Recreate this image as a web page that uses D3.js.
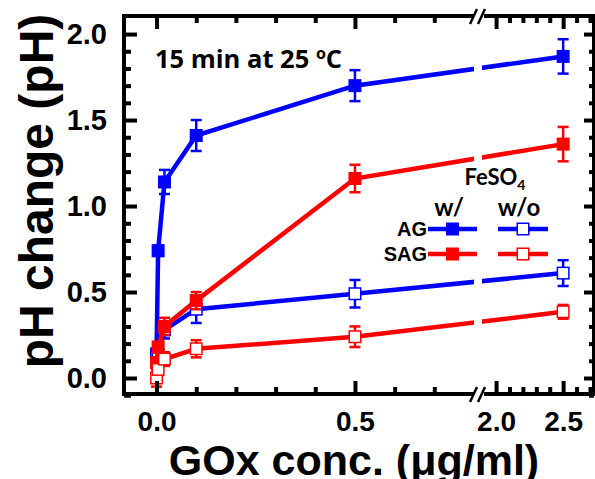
<!DOCTYPE html>
<html><head><meta charset="utf-8">
<script src="https://cdn.jsdelivr.net/npm/d3@7"></script>
<style>body{margin:0;background:#fff}svg{display:block}</style>
</head><body>
<svg id="c" width="595" height="479"></svg>
<script>
// ---- data ----
const concentrations = [0, 0.004, 0.02, 0.1, 0.5, 2.5];
const agWith      = [0.14, 0.74, 1.14, 1.41, 1.70, 1.87];
const agWithErr   = [0.02, 0.03, 0.07, 0.09, 0.09, 0.10];
const agWithout   = [0.12, 0.14, 0.28, 0.40, 0.49, 0.61];
const agWithoutErr= [0.02, 0.02, 0.05, 0.08, 0.08, 0.075];
const sagWith     = [0.09, 0.18, 0.30, 0.45, 1.16, 1.36];
const sagWithErr  = [0.03, 0.03, 0.05, 0.05, 0.08, 0.10];
const sagWithout  = [0.00, 0.05, 0.11, 0.17, 0.24, 0.385];
const sagWithoutErr=[0.05, 0.03, 0.04, 0.05, 0.06, 0.04];
const xMajor1 = [0, 0.5], xMinor1 = [0.1,0.2,0.3,0.4,0.6,0.7];
const xMajor2 = [2.0, 2.5], xMinor2 = [2.1,2.2,2.3,2.4,2.6,2.7];
const yMajor = [0,0.5,1.0,1.5,2.0];
const yMinor = [-0.1,0.1,0.2,0.3,0.4,0.6,0.7,0.8,0.9,1.1,1.2,1.3,1.4,1.6,1.7,1.8,1.9];

const BLUE="#0000ff", RED="#ff0000";
const series = [
  {vals:agWith, err:agWithErr, color:BLUE, filled:true},
  {vals:agWithout, err:agWithoutErr, color:BLUE, filled:false},
  {vals:sagWith, err:sagWithErr, color:RED, filled:true},
  {vals:sagWithout, err:sagWithoutErr, color:RED, filled:false}
];

const L=124, R=594, T=16, B=394;
const x1 = d3.scaleLinear().domain([-0.082, 0.80]).range([L, 474]);
const x2 = d3.scaleLinear().domain([1.91, 2.73]).range([484, R]);
const xs = v => v <= 1 ? x1(v) : x2(v);
const y = d3.scaleLinear().domain([-0.093, 2.105]).range([B, T]);

const svg = d3.select("#c");
const tickFont = "'Liberation Sans', Arial, sans-serif";

// clip for axis break gap in data lines
const defs = svg.append("defs");
const cp = defs.append("clipPath").attr("id","gap");
cp.append("rect").attr("x",0).attr("y",0).attr("width",474).attr("height",479);
cp.append("rect").attr("x",482).attr("y",0).attr("width",200).attr("height",479);

// data
const gData = svg.append("g");
const sz = 13;
series.forEach(s => {
  const pts = concentrations.map((c,i)=>[xs(c), y(s.vals[i])]);
  gData.append("path").attr("d", d3.line()(pts)).attr("fill","none")
    .attr("stroke", s.color).attr("stroke-width",4.5).attr("clip-path","url(#gap)");
  concentrations.forEach((c,i)=>{
    const cx = xs(c), yt = y(s.vals[i]+s.err[i]), yb = y(s.vals[i]-s.err[i]);
    const g = gData.append("g").attr("stroke", s.color).attr("stroke-width",2.5);
    g.append("line").attr("x1",cx).attr("x2",cx).attr("y1",yt).attr("y2",yb);
    g.append("line").attr("x1",cx-5.5).attr("x2",cx+5.5).attr("y1",yt).attr("y2",yt);
    g.append("line").attr("x1",cx-5.5).attr("x2",cx+5.5).attr("y1",yb).attr("y2",yb);
  });
  concentrations.forEach((c,i)=>{
    const cx = xs(c), cy = y(s.vals[i]);
    if (s.filled) {
      gData.append("rect").attr("x",cx-sz/2).attr("y",cy-sz/2).attr("width",sz).attr("height",sz)
        .attr("fill", s.color);
    } else {
      gData.append("rect").attr("x",cx-sz/2+0.75).attr("y",cy-sz/2+0.75).attr("width",sz-1.5).attr("height",sz-1.5)
        .attr("fill","#fff").attr("stroke", s.color).attr("stroke-width",1.5);
    }
  });
});

// axes
function styleAxis(g, size){
  g.select(".domain").remove();
  g.selectAll(".tick line").attr("stroke","#000").attr("stroke-width",4);
  g.selectAll(".tick text").attr("font-family",tickFont).attr("font-weight","bold").attr("font-size",size||29).attr("fill","#000");
}
const fmt = d3.format(".1f");
// left
svg.append("g").attr("transform",`translate(${L},0)`)
  .call(d3.axisLeft(y).tickValues(yMajor).tickSize(-13).tickPadding(17).tickFormat(fmt)).call(styleAxis);
svg.append("g").attr("transform",`translate(${L},0)`)
  .call(d3.axisLeft(y).tickValues(yMinor).tickSize(-7).tickFormat("")).call(styleAxis);
// right
svg.append("g").attr("transform",`translate(${R},0)`)
  .call(d3.axisRight(y).tickValues(yMajor).tickSize(-10).tickFormat("")).call(styleAxis);
svg.append("g").attr("transform",`translate(${R},0)`)
  .call(d3.axisRight(y).tickValues(yMinor).tickSize(-5).tickFormat("")).call(styleAxis);
// bottom / top
[[x1,xMajor1,xMinor1],[x2,xMajor2,xMinor2]].forEach(([sc,maj,min])=>{
  svg.append("g").attr("transform",`translate(0,${B})`)
    .call(d3.axisBottom(sc).tickValues(maj).tickSize(-13).tickPadding(17).tickFormat(fmt)).call(g=>styleAxis(g,28));
  svg.append("g").attr("transform",`translate(0,${B})`)
    .call(d3.axisBottom(sc).tickValues(min).tickSize(-7).tickFormat("")).call(styleAxis);
  svg.append("g").attr("transform",`translate(0,${T})`)
    .call(d3.axisTop(sc).tickValues(maj).tickSize(-13).tickFormat("")).call(styleAxis);
  svg.append("g").attr("transform",`translate(0,${T})`)
    .call(d3.axisTop(sc).tickValues(min).tickSize(-7).tickFormat("")).call(styleAxis);
});

// frame
const fr = svg.append("g").attr("stroke","#000").attr("stroke-width",4).attr("stroke-linecap","square");
fr.append("line").attr("x1",L).attr("x2",L).attr("y1",T).attr("y2",B);
fr.append("line").attr("x1",R).attr("x2",R).attr("y1",T).attr("y2",B);
[T,B].forEach(yy=>{
  fr.append("line").attr("x1",L).attr("x2",472).attr("y1",yy).attr("y2",yy);
  fr.append("line").attr("x1",486).attr("x2",R).attr("y1",yy).attr("y2",yy);
  const bk = svg.append("g").attr("stroke","#000").attr("stroke-width",2.5);
  bk.append("line").attr("x1",470).attr("y1",yy+8).attr("x2",477).attr("y2",yy-7);
  bk.append("line").attr("x1",478).attr("y1",yy+8).attr("x2",485).attr("y2",yy-7);
});

// titles
svg.append("text").attr("x",354).attr("y",475).attr("text-anchor","middle")
  .attr("font-family",tickFont).attr("font-weight","bold").attr("font-size",43)
  .text("GOx conc. (μg/ml)");
svg.append("text").attr("transform","translate(53,191) rotate(-90)").attr("text-anchor","middle")
  .attr("font-family",tickFont).attr("font-weight","bold").attr("font-size",48)
  .text("pH change (pH)");

const lato = "Lato, 'Open Sans', sans-serif";
const ann = svg.append("text").attr("x",155).attr("y",68).attr("font-family","'Open Sans', Lato, sans-serif")
  .attr("font-weight","bold").attr("font-size",25.5).attr("fill","#000");
ann.append("tspan").text("15 min at 25 ");
ann.append("tspan").attr("font-size",16).attr("dy",-9).text("o");
ann.append("tspan").attr("dy",9).text("C");

// legend
const fe = svg.append("text").attr("x",495).attr("y",185).attr("text-anchor","middle")
  .attr("font-family",lato).attr("font-weight","bold").attr("font-size",22);
fe.append("tspan").text("FeSO");
fe.append("tspan").attr("font-size",14).attr("dy",5).text("4");
svg.append("text").attr("x",449).attr("y",216).attr("text-anchor","middle")
  .attr("font-family",lato).attr("font-weight","bold").attr("font-size",24).text("w/");
svg.append("text").attr("x",519).attr("y",216).attr("text-anchor","middle")
  .attr("font-family",lato).attr("font-weight","bold").attr("font-size",24).text("w/o");
const legRows = [
  {label:"AG", y:229, color:BLUE},
  {label:"SAG", y:254, color:RED}
];
legRows.forEach(r=>{
  svg.append("text").attr("x",427).attr("y",r.y).attr("dy","0.35em").attr("text-anchor","end")
    .attr("font-family",tickFont).attr("font-weight","bold").attr("font-size",20).text(r.label);
  [[428,477,true],[498,548,false]].forEach(([a,b,filled])=>{
    svg.append("line").attr("x1",a).attr("x2",b).attr("y1",r.y).attr("y2",r.y)
      .attr("stroke",r.color).attr("stroke-width",4.5);
    const cx=(a+b)/2;
    if(filled) svg.append("rect").attr("x",cx-sz/2).attr("y",r.y-sz/2).attr("width",sz).attr("height",sz).attr("fill",r.color);
    else svg.append("rect").attr("x",cx-sz/2+0.75).attr("y",r.y-sz/2+0.75).attr("width",sz-1.5).attr("height",sz-1.5)
      .attr("fill","#fff").attr("stroke",r.color).attr("stroke-width",1.5);
  });
});
</script>
</body></html>
